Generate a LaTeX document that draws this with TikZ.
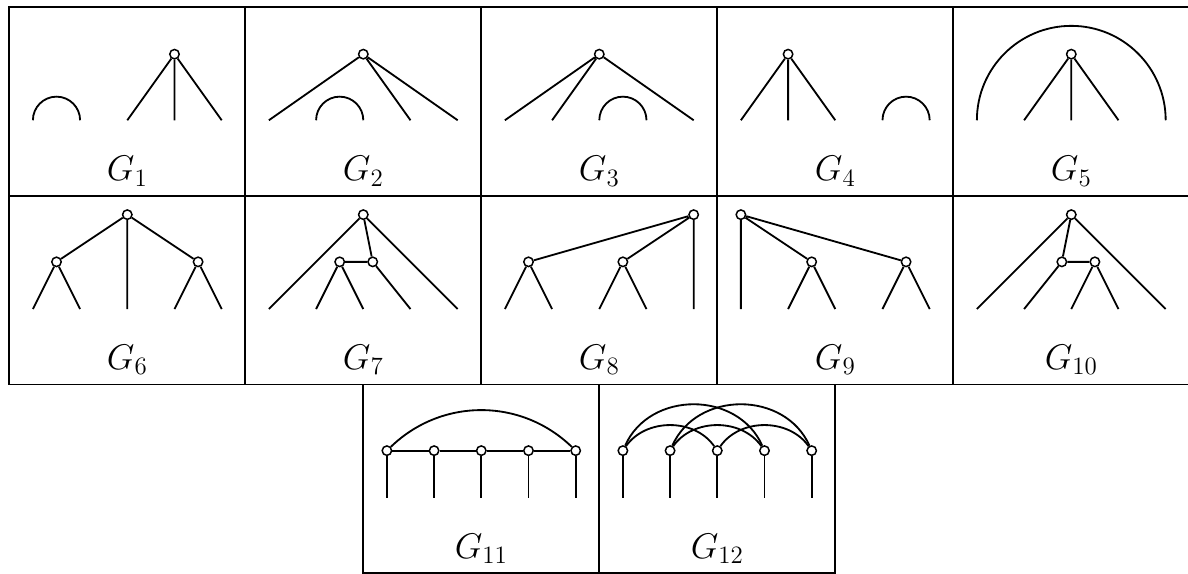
\RequirePackage{fix-cm}
\documentclass[tikz,border=0pt]{standalone}
\tikzset{
  edge/.style={line width=1.1pt},
  vtx/.style={circle,draw,fill=white,line width=0.9pt,inner sep=0pt,minimum size=0.2cm},
  frame/.style={line width=1.1pt},
  lbl/.style={font=\fontsize{21.5}{26}\selectfont, anchor=base, inner sep=0pt}
}
\begin{document}
\begin{tikzpicture}[edge]
\useasboundingbox (-0.197,-0.013) rectangle (24.973,12.148);
% frames
\foreach \i in {0,...,4} {
  \draw[frame] (5*\i,8) rectangle (5*\i+5,12);
  \draw[frame] (5*\i,4) rectangle (5*\i+5,8);
}
\draw[frame] (7.5,0) rectangle (12.5,4);
\draw[frame] (12.5,0) rectangle (17.5,4);

% ---------- G1 ----------
\begin{scope}[shift={(0,8)}]
\coordinate (g1a) at (0.5,1.6);
\node[vtx] (g1r) at (3.5,3) {};
\coordinate (g1l1) at (2.5,1.6);
\coordinate (g1l2) at (3.5,1.6);
\coordinate (g1l3) at (4.5,1.6);
\draw (g1a) arc[start angle=180,end angle=0,radius=0.5];
\draw (g1r) -- (g1l1) (g1r) -- (g1l2) (g1r) -- (g1l3);
\node[lbl] (g1t) at (2.5,0.32) {$G_1$};
\end{scope}

% ---------- G2 ----------
\begin{scope}[shift={(5,8)}]
\coordinate (g2a) at (1.5,1.6);
\node[vtx] (g2r) at (2.5,3) {};
\coordinate (g2l1) at (0.5,1.6);
\coordinate (g2l2) at (3.5,1.6);
\coordinate (g2l3) at (4.5,1.6);
\draw (g2a) arc[start angle=180,end angle=0,radius=0.5];
\draw (g2r) -- (g2l1) (g2r) -- (g2l2) (g2r) -- (g2l3);
\node[lbl] (g2t) at (2.5,0.32) {$G_2$};
\end{scope}

% ---------- G3 ----------
\begin{scope}[shift={(10,8)}]
\coordinate (g3a) at (2.5,1.6);
\node[vtx] (g3r) at (2.5,3) {};
\coordinate (g3l1) at (0.5,1.6);
\coordinate (g3l2) at (1.5,1.6);
\coordinate (g3l3) at (4.5,1.6);
\draw (g3a) arc[start angle=180,end angle=0,radius=0.5];
\draw (g3r) -- (g3l1) (g3r) -- (g3l2) (g3r) -- (g3l3);
\node[lbl] (g3t) at (2.5,0.32) {$G_3$};
\end{scope}

% ---------- G4 ----------
\begin{scope}[shift={(15,8)}]
\coordinate (g4a) at (3.5,1.6);
\node[vtx] (g4r) at (1.5,3) {};
\coordinate (g4l1) at (0.5,1.6);
\coordinate (g4l2) at (1.5,1.6);
\coordinate (g4l3) at (2.5,1.6);
\draw (g4a) arc[start angle=180,end angle=0,radius=0.5];
\draw (g4r) -- (g4l1) (g4r) -- (g4l2) (g4r) -- (g4l3);
\node[lbl] (g4t) at (2.5,0.32) {$G_4$};
\end{scope}

% ---------- G5 ----------
\begin{scope}[shift={(20,8)}]
\coordinate (g5a) at (0.5,1.6);
\node[vtx] (g5r) at (2.5,3) {};
\coordinate (g5l1) at (1.5,1.6);
\coordinate (g5l2) at (2.5,1.6);
\coordinate (g5l3) at (3.5,1.6);
\draw (g5a) arc[start angle=180,end angle=0,radius=2];
\draw (g5r) -- (g5l1) (g5r) -- (g5l2) (g5r) -- (g5l3);
\node[lbl] (g5t) at (2.5,0.32) {$G_5$};
\end{scope}

% ---------- G6 ----------
\begin{scope}[shift={(0,4)}]
\node[vtx] (g6r) at (2.5,3.6) {};
\node[vtx] (g6A) at (1,2.6) {};
\node[vtx] (g6B) at (4,2.6) {};
\foreach \k/\x in {1/0.5,2/1.5,3/2.5,4/3.5,5/4.5} \coordinate (g6l\k) at (\x,1.6);
\draw (g6r) -- (g6A) (g6r) -- (g6B) (g6r) -- (g6l3)
      (g6A) -- (g6l1) (g6A) -- (g6l2) (g6B) -- (g6l4) (g6B) -- (g6l5);
\node[lbl] (g6t) at (2.5,0.32) {$G_6$};
\end{scope}

% ---------- G7 ----------
\begin{scope}[shift={(5,4)}]
\node[vtx] (g7r) at (2.5,3.6) {};
\node[vtx] (g7A) at (2.0,2.6) {};
\node[vtx] (g7B) at (2.7,2.6) {};
\foreach \k/\x in {1/0.5,2/1.5,3/2.5,4/3.5,5/4.5} \coordinate (g7l\k) at (\x,1.6);
\draw (g7r) -- (g7l1) (g7r) -- (g7l5) (g7r) -- (g7B) (g7B) -- (g7A)
      (g7A) -- (g7l2) (g7A) -- (g7l3) (g7B) -- (g7l4);
\node[lbl] (g7t) at (2.5,0.32) {$G_7$};
\end{scope}

% ---------- G8 ----------
\begin{scope}[shift={(10,4)}]
\node[vtx] (g8r) at (4.5,3.6) {};
\node[vtx] (g8A) at (1,2.6) {};
\node[vtx] (g8B) at (3,2.6) {};
\foreach \k/\x in {1/0.5,2/1.5,3/2.5,4/3.5,5/4.5} \coordinate (g8l\k) at (\x,1.6);
\draw (g8r) -- (g8A) (g8r) -- (g8B) (g8r) -- (g8l5)
      (g8A) -- (g8l1) (g8A) -- (g8l2) (g8B) -- (g8l3) (g8B) -- (g8l4);
\node[lbl] (g8t) at (2.5,0.32) {$G_8$};
\end{scope}

% ---------- G9 ----------
\begin{scope}[shift={(15,4)}]
\node[vtx] (g9r) at (0.5,3.6) {};
\node[vtx] (g9A) at (2,2.6) {};
\node[vtx] (g9B) at (4,2.6) {};
\foreach \k/\x in {1/0.5,2/1.5,3/2.5,4/3.5,5/4.5} \coordinate (g9l\k) at (\x,1.6);
\draw (g9r) -- (g9l1) (g9r) -- (g9A) (g9r) -- (g9B)
      (g9A) -- (g9l2) (g9A) -- (g9l3) (g9B) -- (g9l4) (g9B) -- (g9l5);
\node[lbl] (g9t) at (2.5,0.32) {$G_9$};
\end{scope}

% ---------- G10 ----------
\begin{scope}[shift={(20,4)}]
\node[vtx] (g10r) at (2.5,3.6) {};
\node[vtx] (g10A) at (2.3,2.6) {};
\node[vtx] (g10B) at (3.0,2.6) {};
\foreach \k/\x in {1/0.5,2/1.5,3/2.5,4/3.5,5/4.5} \coordinate (g10l\k) at (\x,1.6);
\draw (g10r) -- (g10l1) (g10r) -- (g10l5) (g10r) -- (g10A) (g10A) -- (g10B)
      (g10A) -- (g10l2) (g10B) -- (g10l3) (g10B) -- (g10l4);
\node[lbl] (g10t) at (2.5,0.32) {$G_{10}$};
\end{scope}

% ---------- G11 ----------
\begin{scope}[shift={(7.5,0)}]
\foreach \k/\x in {1/0.5,2/1.5,3/2.5,4/3.5,5/4.5} {
  \coordinate (g11l\k) at (\x,1.6);
  \node[vtx] (g11n\k) at (\x,2.6) {};
}
\draw (g11n1) -- (g11n2) (g11n2) -- (g11n3) (g11n3) -- (g11n4) (g11n4) -- (g11n5);
\foreach \k in {1,...,5} \draw (g11n\k) -- (g11l\k);
\draw (g11n1) to[out=44,in=136] (g11n5);
\node[lbl] (g11t) at (2.5,0.32) {$G_{11}$};
\end{scope}

% ---------- G12 ----------
\begin{scope}[shift={(12.5,0)}]
\foreach \k/\x in {1/0.5,2/1.5,3/2.5,4/3.5,5/4.5} {
  \coordinate (g12l\k) at (\x,1.6);
  \node[vtx] (g12n\k) at (\x,2.6) {};
}
\foreach \k in {1,...,5} \draw (g12n\k) -- (g12l\k);
\draw (g12n1) to[out=55,in=125] (g12n3);
\draw (g12n2) to[out=55,in=125] (g12n4);
\draw (g12n3) to[out=55,in=125] (g12n5);
\draw (g12n1) to[out=66,in=114,looseness=1.13] (g12n4);
\draw (g12n2) to[out=66,in=114,looseness=1.13] (g12n5);
\node[lbl] (g12t) at (2.5,0.32) {$G_{12}$};
\end{scope}
\end{tikzpicture}
\end{document}
